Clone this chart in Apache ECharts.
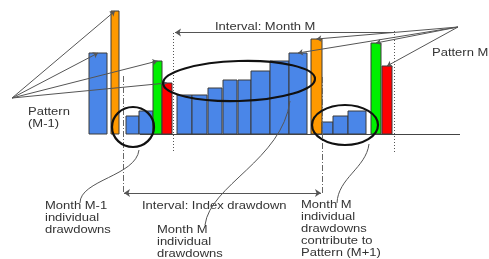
<!DOCTYPE html>
<html>
<head>
<meta charset="utf-8">
<script src="https://cdn.jsdelivr.net/npm/echarts@6/dist/echarts.min.js"></script>
<style>
  html, body { margin: 0; padding: 0; background: #fff; }
  #chart { width: 489px; height: 259px; }
</style>
</head>
<body>
<div id="chart"></div>
<script>
// bars on a px-like x scale, height measured up from the baseline
const barLeft   = [89, 111, 126, 139, 153, 162, 177, 192, 208, 223, 238, 251, 270, 289, 311, 322, 333, 348, 371, 382]
const barRight  = [107, 119, 139, 153, 162, 172, 192, 207, 222, 237, 251, 270, 289, 307, 322, 333, 348, 366, 381, 392]
const barHeight = [81, 123, 18, 23, 73, 51, 39, 39, 46, 54, 54, 63, 73, 81, 95, 12, 18, 23, 91, 68]
const barKind   = ['blue', 'orange', 'blue', 'blue', 'green', 'red', 'blue', 'blue', 'blue', 'blue',
                   'blue', 'blue', 'blue', 'blue', 'orange', 'blue', 'blue', 'blue', 'green', 'red']

// which bars each "pattern" label points at
const patternPrevTargets = [0, 1, 4, 5]
const patternMTargets = [13, 14, 18, 19]

const colors = { blue: '#4a86e8', orange: '#ff9900', green: '#00f000', red: '#ff0000' }
const BASE = 134 // baseline, px from top
const H = 259

// pixel -> data helper for annotation geometry
const d = (x, y) => [x, BASE - y]

const chart = echarts.init(document.getElementById('chart'))

const barData = barLeft.map((l, i) => [l, barRight[i], barHeight[i], i])
const topOf = i => [(barLeft[i] + barRight[i]) / 2, barHeight[i]]

const leaders = [
  ...patternPrevTargets.map(i => ({ coords: [d(12, 98), topOf(i)] })),
  ...patternMTargets.map(i => ({ coords: [d(458, 27), topOf(i)] })),
]

const font = '13px "Liberation Sans", Arial, sans-serif'
const txt = (x, y, text) => ({
  type: 'text', x, y, scaleY: 0.8, z: 50,
  style: { text, x: 0, y: 0, font, fill: '#333', lineHeight: 15, verticalAlign: 'top' }
})
const loop = (cx, cy, rx, ry, rot) => ({
  type: 'ellipse', z: 60, x: cx, y: cy, rotation: rot || 0,
  shape: { cx: 0, cy: 0, rx, ry },
  style: { fill: 'none', stroke: '#111', lineWidth: 2.2 }
})
const curve = (x1, y1, c1x, c1y, c2x, c2y, x2, y2) => ({
  type: 'bezierCurve', z: 50,
  shape: { x1, y1, cpx1: c1x, cpy1: c1y, cpx2: c2x, cpy2: c2y, x2, y2 },
  style: { stroke: '#555', lineWidth: 1, fill: 'none' }
})

chart.setOption({
  animation: false,
  grid: { left: 0, right: 0, top: 0, bottom: 0 },
  xAxis: { type: 'value', min: 0, max: 489, show: false },
  yAxis: { type: 'value', min: BASE - H, max: BASE, show: false },
  series: [
    {
      type: 'custom',
      data: barData,
      encode: { x: [0, 1], y: 2 },
      z: 2,
      renderItem(params, api) {
        const p0 = api.coord([api.value(0), api.value(2)])
        const p1 = api.coord([api.value(1), 0])
        return {
          type: 'rect',
          shape: { x: p0[0], y: p0[1], width: p1[0] - p0[0], height: p1[1] - p0[1] },
          style: { fill: colors[barKind[api.value(3)]], stroke: '#3a3a3a', lineWidth: 1 }
        }
      }
    },
    {
      // baseline
      type: 'lines', coordinateSystem: 'cartesian2d', z: 3,
      lineStyle: { color: '#444', width: 1, opacity: 1 },
      data: [{ coords: [d(140, BASE), d(460, BASE)] }]
    },
    {
      type: 'lines', coordinateSystem: 'cartesian2d', z: 4,
      symbol: ['none', 'arrow'], symbolSize: 5,
      lineStyle: { color: '#555', width: 1, opacity: 1 },
      data: leaders
    },
    {
      // interval arrows
      type: 'lines', coordinateSystem: 'cartesian2d', z: 4,
      symbol: ['arrow', 'none'], symbolSize: 6,
      lineStyle: { color: '#555', width: 1, opacity: 1 },
      data: [{ coords: [d(175, 32.5), d(394, 32.5)] }]
    },
    {
      type: 'lines', coordinateSystem: 'cartesian2d', z: 4,
      symbol: ['arrow', 'arrow'], symbolSize: 6,
      lineStyle: { color: '#555', width: 1, opacity: 1 },
      data: [{ coords: [d(124, 193), d(321, 193)] }]
    },
    {
      // dotted month boundaries
      type: 'lines', coordinateSystem: 'cartesian2d', z: 4,
      lineStyle: { color: '#555', width: 1, type: [1, 2], opacity: 1 },
      data: [{ coords: [d(173.5, 33), d(173.5, 151)] }, { coords: [d(394, 31), d(394, 153)] }]
    },
    {
      // dash-dot index drawdown boundaries
      type: 'lines', coordinateSystem: 'cartesian2d', z: 4,
      lineStyle: { color: '#666', width: 1, type: [6, 2, 1, 2], opacity: 1 },
      data: [{ coords: [d(123, 76), d(123, 193)] }, { coords: [d(322, 77), d(322, 193)] }]
    }
  ],
  graphic: [
    txt(215, 21, 'Interval: Month M'),
    txt(432, 47, 'Pattern M'),
    txt(28, 106, 'Pattern\n(M-1)'),
    txt(142, 200, 'Interval: Index drawdown'),
    txt(45, 200, 'Month M-1\nindividual\ndrawdowns'),
    txt(157, 224, 'Month M\nindividual\ndrawdowns'),
    txt(301, 199, 'Month M\nindividual\ndrawdowns\ncontribute to\nPattern (M+1)'),
    loop(133, 127, 21, 20),
    loop(239, 81, 76, 20, 0.03),
    loop(345, 125, 33, 20),
    curve(80, 203, 80, 180, 136, 176, 139, 150),
    curve(205, 225, 210, 185, 282, 160, 290, 101),
    curve(337, 203, 338, 178, 366, 168, 369, 144)
  ]
})
</script>
</body>
</html>
